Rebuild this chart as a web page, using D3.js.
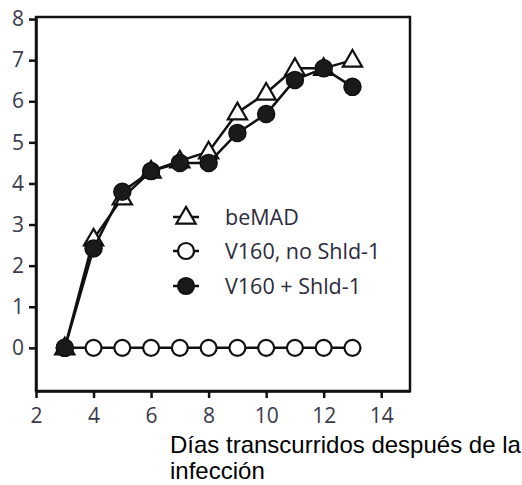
<!DOCTYPE html>
<html>
<head>
    <meta charset="utf-8" />
    <script src="https://d3js.org/d3.v7.min.js"></script>
    <style>
        body { margin: 0; background: #fff; }
        .tick text { font-family: "Open Sans", sans-serif; font-size: 21px; fill: #3a3a4c; }
        .legend text { font-family: "Open Sans", sans-serif; font-size: 21.5px; fill: #2b2b3b; }
        .title { font-family: "Liberation Sans", Arial, sans-serif; font-size: 24px; fill: #000; }
    </style>
</head>
<body>
<div id="chart"></div>
<script>
    var days = [3, 4, 5, 6, 7, 8, 9, 10, 11, 12, 13];
    var bemad = [0, 2.65, 3.65, 4.3, 4.55, 4.77, 5.72, 6.2, 6.8, 6.8, 7.0];
    var noShld = [0, 0, 0, 0, 0, 0, 0, 0, 0, 0, 0];
    var plusShld = [0, 2.42, 3.8, 4.3, 4.5, 4.5, 5.23, 5.69, 6.52, 6.8, 6.35];
    var xTicks = [2, 4, 6, 8, 10, 12, 14];
    var yTicks = [0, 1, 2, 3, 4, 5, 6, 7, 8];
    var names = ["beMAD", "V160, no Shld-1", "V160 + Shld-1"];
    var titleLines = ["Días transcurridos después de la", "infección"];

    var W = 522, H = 485;
    var pLeft = 36, pRight = 410, pTop = 17, pBottom = 391;

    var svg = d3.select("#chart").append("svg")
        .attr("width", W)
        .attr("height", H);

    var x = d3.scaleLinear().domain([2, 15]).range([pLeft, pRight]);
    var y = d3.scaleLinear().domain([-1.05, 8.05]).range([pBottom, pTop]);

    // frame
    svg.append("rect")
        .attr("x", pLeft).attr("y", pTop)
        .attr("width", pRight - pLeft).attr("height", pBottom - pTop)
        .attr("fill", "none").attr("stroke", "#111").attr("stroke-width", 2.5);

    var xAxis = svg.append("g")
        .attr("transform", "translate(0," + pBottom + ")")
        .call(d3.axisBottom(x).tickValues(xTicks).tickSize(7).tickPadding(10).tickSizeOuter(0));
    var yAxis = svg.append("g")
        .attr("transform", "translate(" + pLeft + ",0)")
        .call(d3.axisLeft(y).tickValues(yTicks).tickSize(7).tickPadding(5).tickSizeOuter(0));
    [xAxis, yAxis].forEach(function (g) {
        g.select(".domain").attr("stroke", "#111").attr("stroke-width", 2.5);
        g.selectAll(".tick line").attr("stroke", "#111").attr("stroke-width", 2.5);
    });

    var line = d3.line()
        .x(function (d) { return x(d[0]); })
        .y(function (d) { return y(d[1]); });

    function pairs(vals) {
        return days.map(function (d, i) { return [d, vals[i]]; });
    }

    var tri = d3.symbol().type(d3.symbolTriangle).size(160);

    function drawLine(vals) {
        svg.append("path")
            .datum(pairs(vals))
            .attr("d", line)
            .attr("fill", "none")
            .attr("stroke", "#111")
            .attr("stroke-width", 2.5);
    }

    // open circles
    drawLine(noShld);
    svg.selectAll(".open").data(pairs(noShld)).enter().append("circle")
        .attr("class", "open")
        .attr("cx", function (d) { return x(d[0]); })
        .attr("cy", function (d) { return y(d[1]); })
        .attr("r", 8)
        .attr("fill", "#fff").attr("stroke", "#111").attr("stroke-width", 2.2);

    // triangles
    drawLine(bemad);
    svg.selectAll(".tri").data(pairs(bemad)).enter().append("path")
        .attr("class", "tri")
        .attr("transform", function (d) { return "translate(" + x(d[0]) + "," + (y(d[1]) + 1) + ")"; })
        .attr("d", tri)
        .attr("fill", "#fff").attr("stroke", "#111").attr("stroke-width", 2.2);

    // filled circles
    drawLine(plusShld);
    svg.selectAll(".fill").data(pairs(plusShld)).enter().append("circle")
        .attr("class", "fill")
        .attr("cx", function (d) { return x(d[0]); })
        .attr("cy", function (d) { return y(d[1]); })
        .attr("r", 8.5)
        .attr("fill", "#1a1a1a").attr("stroke", "#111").attr("stroke-width", 1.5);

    // legend
    var lg = svg.append("g").attr("class", "legend");
    var rows = [217, 251, 286];
    names.forEach(function (n, i) {
        var g = lg.append("g").attr("transform", "translate(186," + rows[i] + ")");
        g.append("line").attr("x1", -13).attr("x2", 13)
            .attr("stroke", "#111").attr("stroke-width", 2.5);
        if (i === 0) {
            g.append("path").attr("d", tri).attr("transform", "translate(0,1)")
                .attr("fill", "#fff").attr("stroke", "#111").attr("stroke-width", 2.2);
        } else {
            g.append("circle").attr("r", 8)
                .attr("fill", i === 1 ? "#fff" : "#1a1a1a")
                .attr("stroke", "#111").attr("stroke-width", 2.2);
        }
        g.append("text").attr("x", 39).attr("dy", "0.35em").text(n);
    });

    // axis title
    svg.append("text").attr("class", "title")
        .selectAll("tspan").data(titleLines).enter().append("tspan")
        .attr("x", 170)
        .attr("y", function (d, i) { return 453 + i * 26; })
        .text(function (d) { return d; });
</script>
</body>
</html>
